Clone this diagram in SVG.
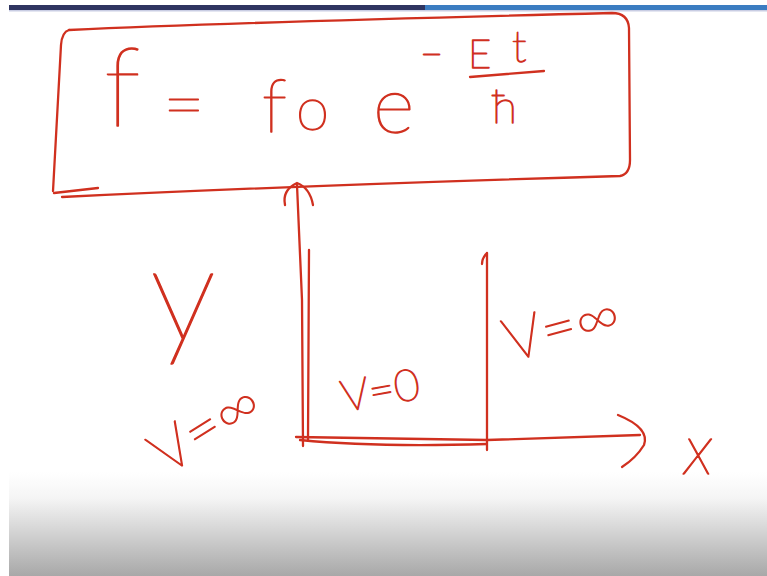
<svg xmlns="http://www.w3.org/2000/svg" width="767" height="576" viewBox="0 0 767 576">
<defs>
<linearGradient id="floor" x1="0" y1="0" x2="0" y2="1">
<stop offset="0" stop-color="#ffffff"/>
<stop offset="0.25" stop-color="#f5f5f5"/>
<stop offset="1" stop-color="#a8a8a8"/>
</linearGradient>
<style>
.ink{fill:none;stroke:#d0301f;stroke-width:2.3;stroke-linecap:round;stroke-linejoin:round}
.hw{font-family:Lato,"Liberation Sans",sans-serif;font-weight:100;fill:#d0301f;stroke:#d0301f;stroke-width:1.4;stroke-linejoin:round}
</style>
</defs>
<rect width="767" height="576" fill="#ffffff"/>
<rect x="9" y="5" width="416" height="5" fill="#2f3561"/>
<rect x="425" y="5" width="342" height="5" fill="#3b7cc1"/>
<rect x="9" y="10" width="758" height="1.5" fill="#c9cde3"/>
<rect x="9" y="472" width="758" height="104" fill="url(#floor)"/>

<g id="formula-box">
<path class="ink" d="M69,30 C200,24 450,17 612,13 Q628,13 629,28 L630,160 Q630,174 620,176 C480,180 250,188 62,197"/>
<path class="ink" d="M69,30 Q62,32 61,45 L53,191"/>
<path class="ink" d="M54,193 L98,188"/>
<line class="ink" x1="470" y1="77" x2="544" y2="71"/>
<text class="hw" x="104" y="126" font-size="110">f</text>
<text class="hw" x="163" y="130" font-size="72">=</text>
<text class="hw" x="262" y="132" font-size="75">f</text>
<text class="hw" x="296" y="130" font-size="60">o</text>
<text class="hw" x="373" y="133" font-size="80">e</text>
<text class="hw" x="420" y="68" font-size="40">−</text>
<text class="hw" x="468" y="68" font-size="40">E</text>
<text class="hw" x="512" y="62" font-size="44">t</text>
<text class="hw" x="492" y="123" font-size="46">ħ</text>
</g>

<g id="connectors">
<path class="ink" d="M297,185 L302,300 L303,446"/>
<path class="ink" d="M309,250 L308,440"/>
<path class="ink" d="M285,205 Q282,190 297,183 Q310,188 313,205"/>
<path class="ink" d="M487,253 Q482,258 482,264 M487,253 L487,450"/>
<path class="ink" d="M296,437 L487,440 L640,435"/>
<path class="ink" d="M300,440 C360,446 420,446 487,444"/>
<path class="ink" d="M618,415 Q650,428 644,445 Q636,458 622,467"/>
</g>

<g id="labels">
<text class="hw" x="150" y="340" font-size="135">y</text>
<text class="hw" x="0" y="0" font-size="60" transform="translate(166,476) rotate(-32)">V=∞</text>
<text class="hw" x="0" y="0" font-size="44" transform="translate(344,412) rotate(-10)">V=0</text>
<text class="hw" x="0" y="0" font-size="60" transform="translate(510,362) rotate(-15)">V=∞</text>
<text class="hw" x="684" y="474" font-size="70" font-style="italic">x</text>
</g>
</svg>
